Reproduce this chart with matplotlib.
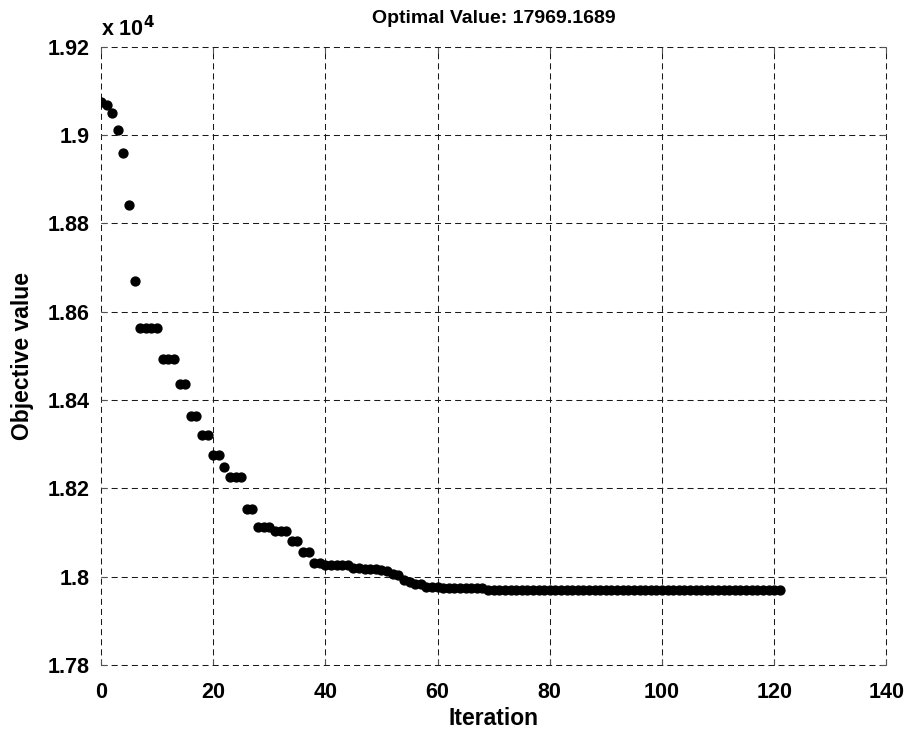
import matplotlib
matplotlib.use('Agg')
import matplotlib.pyplot as plt
import numpy as np

plt.rcParams['font.family'] = ['Liberation Sans', 'DejaVu Sans']
plt.rcParams['font.weight'] = 'bold'

# Objective value per iteration
objective = np.array(
    [19073.6, 19066.8, 19049.7, 19012.0, 18960.0, 18841.1, 18669.5]
    + [18562.8] * 4
    + [18492.8] * 3
    + [18435.7] * 2
    + [18362.5] * 2
    + [18321.2] * 2
    + [18276.1] * 2
    + [18247.4]
    + [18226.4] * 3
    + [18153.5] * 2
    + [18112.0] * 3
    + [18103.8] * 3
    + [18079.7] * 2
    + [18054.8] * 2
    + [18030.0] * 2
    + [18026.6] * 5
    + [18019.0, 18019.0, 18018.0, 18017.0, 18016.0, 18014.0, 18013.0,
       18006.0, 18004.0, 17993.0, 17988.0, 17984.0, 17983.0]
    + [17977.4] * 3
    + [17973.5] * 8
    + [17969.1689] * 53
)
iterations = np.arange(len(objective))
optimal_value = 17969.1689
scale = 1e4

fig = plt.figure(figsize=(9.1, 7.29), dpi=100)
ax = fig.add_axes([0.111, 0.088, 0.863, 0.848])

ax.plot(iterations, objective / scale, 'o', color='black', markersize=6.4, zorder=3)

ax.set_xlim(0, 140)
ax.set_ylim(1.78, 1.92)
ax.set_xticks(np.arange(0, 141, 20))
ax.set_yticks([1.78, 1.80, 1.82, 1.84, 1.86, 1.88, 1.90, 1.92])
ax.set_yticklabels(['1.78', '1.8', '1.82', '1.84', '1.86', '1.88', '1.9', '1.92'])

for spine in ax.spines.values():
    spine.set_visible(False)
ax.tick_params(direction='in', length=4, width=0.8, color='#555555',
               top=True, right=True, labelsize=15.5)
ax.tick_params(axis='x', pad=12)
ax.tick_params(axis='y', pad=8)
for lbl in ax.get_xticklabels() + ax.get_yticklabels():
    lbl.set_fontweight('bold')

ax.grid(True, color='#1a1a1a', linestyle=(0, (5.8, 3.9)), linewidth=0.75)
ax.set_axisbelow(True)
# keep the edge grid lines fully visible, as in the MATLAB figure
for gl in ax.get_xgridlines() + ax.get_ygridlines():
    gl.set_clip_on(False)

ax.set_xlabel('Iteration', fontsize=16.5, fontweight='bold', labelpad=3)
ax.set_ylabel('Objective value', fontsize=16.5, fontweight='bold', labelpad=10)
ax.set_title('Optimal Value: %.4f' % optimal_value, fontsize=14, fontweight='bold', pad=17)

fig.text(0.111, 0.951, r'x 10$^{\mathbf{4}}$', fontsize=15.5, fontweight='bold',
         ha='left', va='baseline')

fig.savefig('out.png', dpi=100)
